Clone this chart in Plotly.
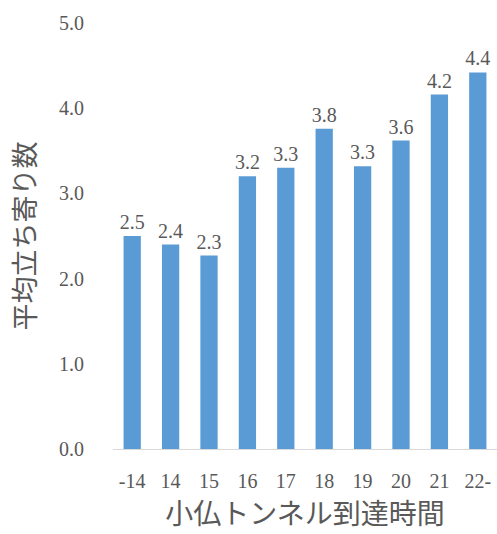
import plotly.graph_objects as go

categories = ["-14", "14", "15", "16", "17", "18", "19", "20", "21", "22-"]
values = [2.5, 2.4, 2.27, 3.2, 3.3, 3.76, 3.32, 3.62, 4.16, 4.42]
y_ticks = [0, 1, 2, 3, 4, 5]
y_tick_labels = ["0.0", "1.0", "2.0", "3.0", "4.0", "5.0"]
x_title = "小仏トンネル到達時間"
y_title = "平均立ち寄り数"

serif = "Liberation Serif, DejaVu Serif, serif"
jp = "Noto Sans CJK JP, sans-serif"
grey = "#595959"

fig = go.Figure(go.Bar(
    x=categories, y=values,
    marker=dict(color="#5B9BD5", line=dict(width=0)),
    texttemplate="%{y:.1f}", textposition="outside",
    textfont=dict(family=serif, size=20, color=grey),
    constraintext="none",
    cliponaxis=False,
))

fig.update_layout(
    width=497, height=534,
    margin=dict(l=113, r=0, t=23, b=85),
    paper_bgcolor="white", plot_bgcolor="white",
    bargap=0.55,
    showlegend=False,
    xaxis=dict(
        type="category",
        showline=True, linecolor="#D9D9D9", linewidth=1,
        showgrid=False, ticks="", ticklabelstandoff=14,
        tickfont=dict(family=serif, size=20, color=grey),
        title=dict(text=x_title, font=dict(family=jp, size=28, color=grey), standoff=5),
    ),
    yaxis=dict(
        range=[0, 5], tickvals=y_ticks, ticktext=y_tick_labels,
        showgrid=False, zeroline=False, showline=False, ticks="",
        ticklabelstandoff=28,
        tickfont=dict(family=serif, size=20, color=grey),
        title=dict(text=y_title, font=dict(family=jp, size=27, color=grey), standoff=15),
    ),
)

fig.write_html("out.html")
